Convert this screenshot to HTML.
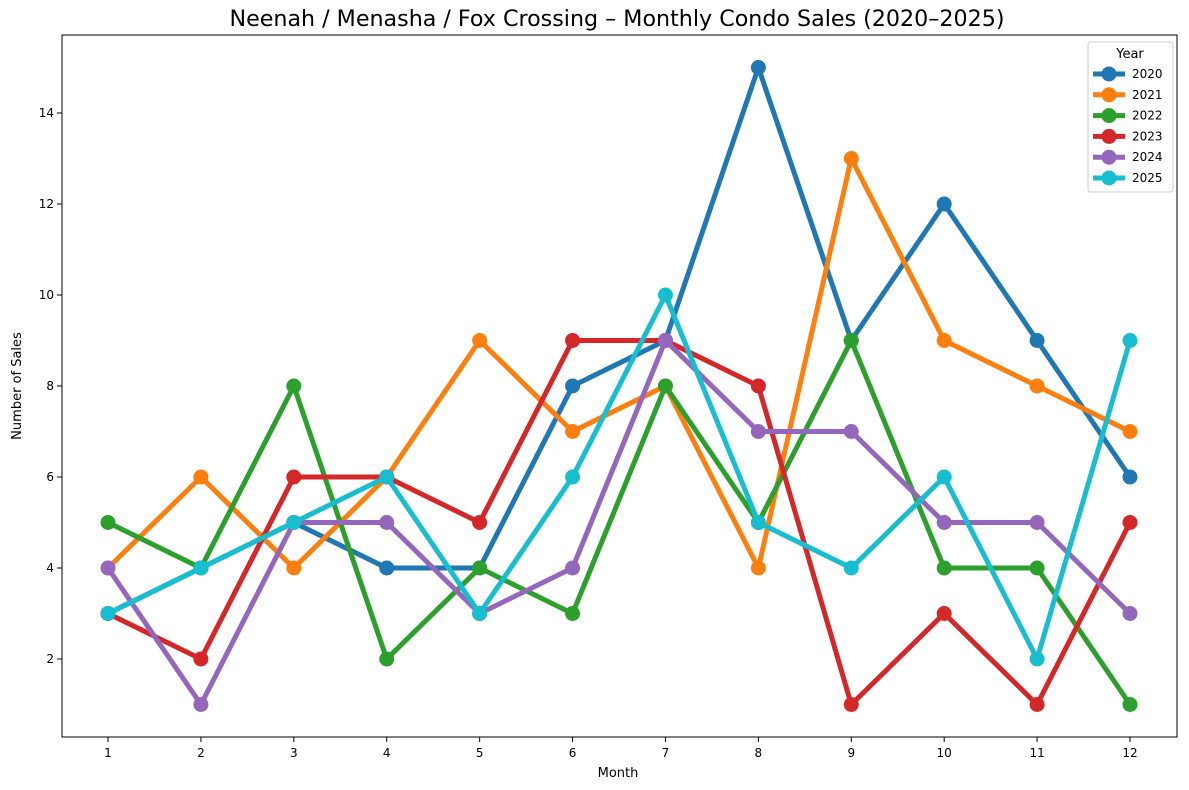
<!DOCTYPE html>
<html><head><meta charset="utf-8"><style>body{margin:0;background:#fff}svg{display:block;font-family:"DejaVu Sans","Liberation Sans",sans-serif}</style></head>
<body>
<svg id="s" width="1189" height="790" xmlns="http://www.w3.org/2000/svg">
<rect width="1189" height="790" fill="#fff"/>
<text x="617" y="26" font-size="22.2" text-anchor="middle">Neenah / Menasha / Fox Crossing – Monthly Condo Sales (2020–2025)</text>
<rect x="62" y="35" width="1115" height="702" fill="none" stroke="#000" stroke-width="1"/>
<g id="ticks" font-size="12"></g>
<g id="lines"></g>
<text x="618" y="777" font-size="13" text-anchor="middle">Month</text>
<text x="21" y="386" font-size="13" text-anchor="middle" transform="rotate(-90 21 386)">Number of Sales</text>
<g>
<rect x="1088" y="42" width="85" height="150" fill="#fff" fill-opacity="0.8" stroke="#ccc" rx="3"/>
<text x="1130" y="58" font-size="13" text-anchor="middle">Year</text>
<g id="leg" font-size="12"></g>
</g>
</svg>
<script>
var X=function(m){return 108+(m-1)*(1022/11)},Y=function(v){return 750-45.5*v};
var t=document.getElementById('ticks'),h='';
for(var m=1;m<=12;m++){h+='<line x1="'+X(m)+'" x2="'+X(m)+'" y1="737" y2="742" stroke="#000"/><text x="'+X(m)+'" y="757" text-anchor="middle">'+m+'</text>';}
for(var v=2;v<=14;v+=2){h+='<line x1="57" x2="62" y1="'+Y(v)+'" y2="'+Y(v)+'" stroke="#000"/><text x="54" y="'+(Y(v)+4)+'" text-anchor="end">'+v+'</text>';}
t.innerHTML=h;
var D=[["2020","#1f77b4",[3,4,5,4,4,8,9,15,9,12,9,6]],["2021","#ff7f0e",[4,6,4,6,9,7,8,4,13,9,8,7]],["2022","#2ca02c",[5,4,8,2,4,3,8,5,9,4,4,1]],["2023","#d62728",[3,2,6,6,5,9,9,8,1,3,1,5]],["2024","#9467bd",[4,1,5,5,3,4,9,7,7,5,5,3]],["2025","#17becf",[3,4,5,6,3,6,10,5,4,6,2,9]]];
var l='',g='';
D.forEach(function(d,i){var p=d[2].map(function(v,k){return X(k+1)+','+Y(v)}).join(' ');
l+='<polyline points="'+p+'" fill="none" stroke="'+d[1]+'" stroke-width="5" stroke-linejoin="round"/>';
d[2].forEach(function(v,k){l+='<circle cx="'+X(k+1)+'" cy="'+Y(v)+'" r="7.5" fill="'+d[1]+'"/>'});
var y=74+i*20.8;g+='<line x1="1093" x2="1125" y1="'+y+'" y2="'+y+'" stroke="'+d[1]+'" stroke-width="5"/><circle cx="1109" cy="'+y+'" r="7.5" fill="'+d[1]+'"/><text x="1132" y="'+(y+4)+'">'+d[0]+'</text>';});
document.getElementById('lines').innerHTML=l;document.getElementById('leg').innerHTML=g;
</script>
</body></html>
